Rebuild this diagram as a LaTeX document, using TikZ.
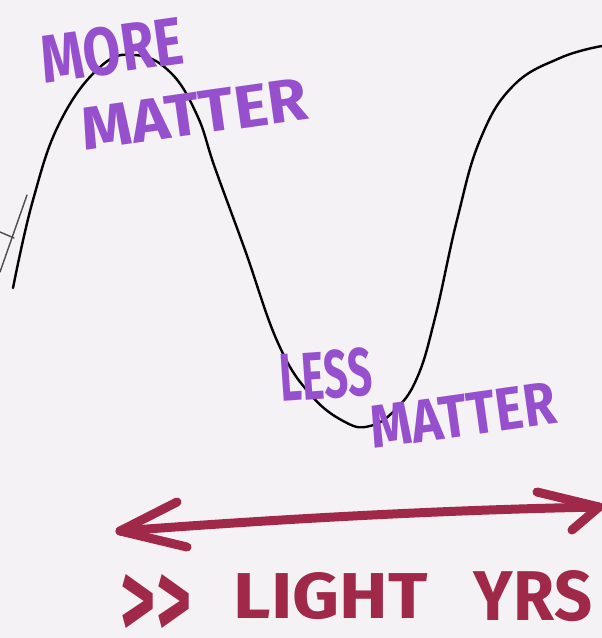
\documentclass[tikz,border=0pt]{standalone}
\usepackage{fontspec}
\usepackage{graphicx}
\setmainfont{Fira Sans}
\definecolor{paper}{RGB}{244,242,244}
\definecolor{violetink}{RGB}{150,80,205}
\definecolor{maroonink}{RGB}{160,40,72}
\newcommand\fitbox[3]{\resizebox{#1}{#2}{\bfseries #3}}
\tikzset{
  wave/.style={black, line width=2.4pt, line cap=round, line join=round},
  faint/.style={black!70, line width=1.4pt, line cap=round},
  purplelabel/.style={text=violetink, inner sep=0pt, font=\bfseries},
  maroonlabel/.style={text=maroonink, inner sep=0pt, font=\bfseries},
  shaft/.style={maroonink, line width=9pt, line cap=round, line join=round}
}
\begin{document}
\begin{tikzpicture}[x=1pt,y=-1pt]
\fill[paper] (0,0) rectangle (602,638);
\useasboundingbox (0,0) rectangle (602,638);

% wave
\draw[wave] plot[smooth, tension=0.7] coordinates {(13,288) (33,200) (60,122) (100,67) (135,55) (170,72) (197,115) (215,168) (245,250) (278,343) (310,394) (345,422) (370,426) (395,410) (417,378) (435,318) (457,220) (480,140) (513,86) (560,58) (602,46)};
\draw[faint] (0,272) -- (27,195);
\draw[faint] (0,232) -- (14,238);

% labels
\node[purplelabel, rotate=8] (more) at (112,50) {\fitbox{142pt}{48pt}{MORE}};
\node[purplelabel, rotate=8] (matter1) at (194,114) {\fitbox{228pt}{42pt}{MATTER}};
\node[purplelabel, rotate=4] (less) at (326,375) {\fitbox{92pt}{48pt}{LESS}};
\node[purplelabel, rotate=8] (matter2) at (463,415) {\fitbox{186pt}{42pt}{MATTER}};

% arrow
\coordinate (aL) at (120,531);
\coordinate (aR) at (599,507);
\draw[shaft] (aL) .. controls (280,519) and (440,510) .. (aR);
\draw[shaft] (177,502) -- (aL) -- (187,547);
\draw[shaft] (537,492) -- (aR) -- (572,530);

% bottom text
\node[maroonlabel] (gg) at (156,606) {\fitbox{70pt}{64pt}{\mbox{>}\mbox{>}}};
\node[maroonlabel] (light) at (331,596) {\fitbox{194pt}{46pt}{LIGHT}};
\node[maroonlabel] (yrs) at (533,596) {\fitbox{118pt}{50pt}{YRS}};
\end{tikzpicture}
\end{document}
